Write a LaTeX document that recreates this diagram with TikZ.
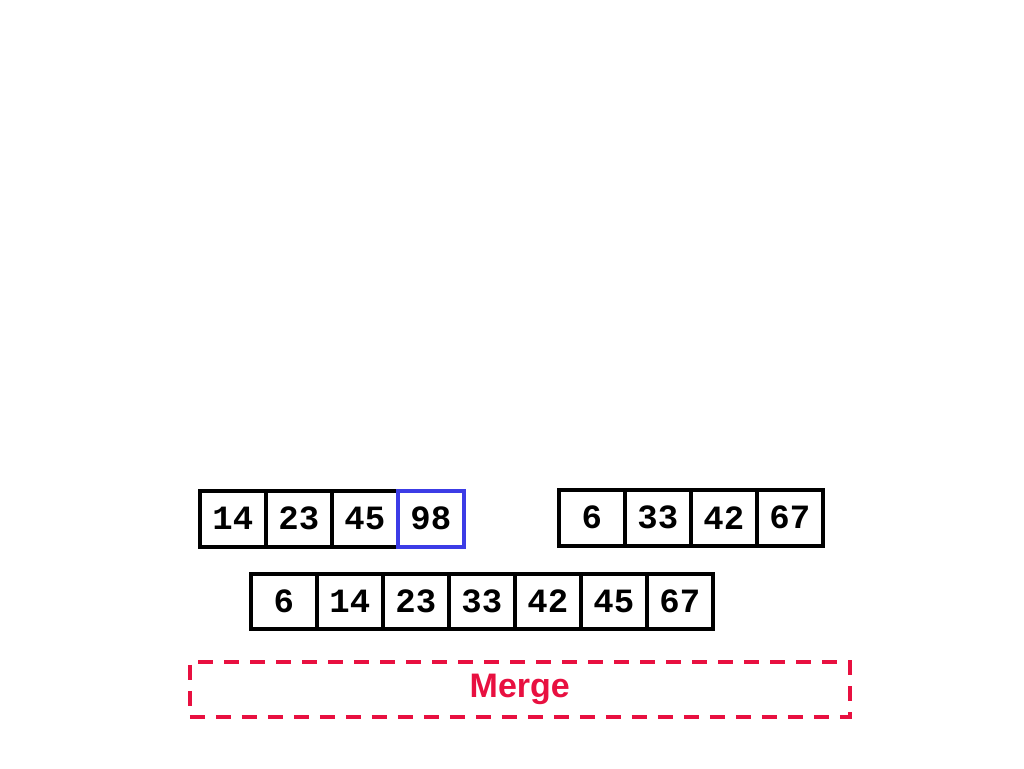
\documentclass[tikz,border=0pt]{standalone}
\usepackage{fontspec}
\newfontfamily\cellfont{Liberation Mono}
\newfontfamily\labelfont{Liberation Sans}
\definecolor{mergered}{RGB}{232,16,64}
\definecolor{cellblue}{RGB}{60,60,230}
\begin{document}
\begin{tikzpicture}[x=1pt,y=-1pt,
  cell/.style={draw=black,line width=3.5pt,minimum width=66pt,minimum height=56pt,inner sep=0pt,font=\cellfont\bfseries\fontsize{34}{34}\selectfont,anchor=north west},
  hot/.style={cell,draw=cellblue},
  mergebox/.style={draw=mergered,line width=3.5pt,dash pattern=on 15pt off 11pt,minimum width=660pt,minimum height=55pt,inner sep=0pt,text=mergered,font=\labelfont\bfseries\fontsize{34}{34}\selectfont,anchor=north west}]
\useasboundingbox (0,0) rectangle (1024,768);
% left array
\node[cell] (a1) at (198,489) {14};
\node[cell] (a2) at (264,489) {23};
\node[cell] (a3) at (330,489) {45};
\node[hot]  (a4) at (396,489) {98};
% right array
\node[cell] (b1) at (557,488) {6};
\node[cell] (b2) at (623,488) {33};
\node[cell] (b3) at (689,488) {42};
\node[cell] (b4) at (755,488) {67};
% merged array
\node[cell,minimum height=55pt] (c1) at (249,572) {6};
\node[cell,minimum height=55pt] (c2) at (315,572) {14};
\node[cell,minimum height=55pt] (c3) at (381,572) {23};
\node[cell,minimum height=55pt] (c4) at (447,572) {33};
\node[cell,minimum height=55pt] (c5) at (513,572) {42};
\node[cell,minimum height=55pt] (c6) at (579,572) {45};
\node[cell,minimum height=55pt] (c7) at (645,572) {67};
% merge label
\node[mergebox] (m) at (188,660) {Merge};
\end{tikzpicture}
\end{document}
